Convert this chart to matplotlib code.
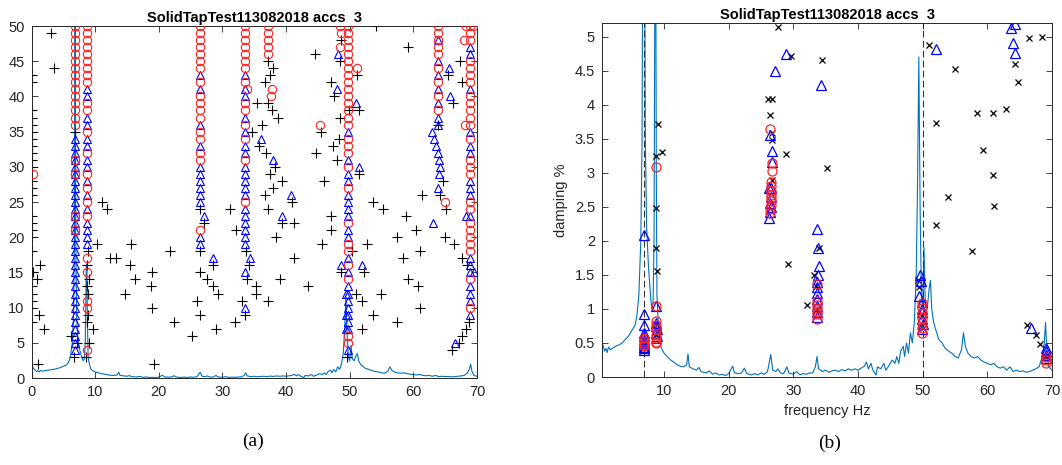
import matplotlib
matplotlib.use("Agg")
import matplotlib.pyplot as plt
from matplotlib.ticker import FuncFormatter

TITLE = "SolidTapTest113082018 accs  3"

# ---------------- spectrum (damping-axis units) ----------------
spec_f = [0.0, 0.2, 0.4, 0.6, 0.8, 1.0, 1.2, 1.4, 1.7, 2.0, 2.5, 3.0, 3.5, 4.0, 4.5, 5.0, 5.5, 5.8,
          6.1, 6.4, 6.6, 6.75, 6.85, 6.95, 7.1, 7.3, 7.6, 7.9, 8.1, 8.3, 8.45, 8.6, 8.7, 8.8, 8.9,
          9.1, 9.3, 9.6, 10.0, 10.5, 11.0, 11.5, 12.0, 12.5, 13.0, 13.5, 13.7, 13.9, 14.5, 15.0,
          15.4, 15.7, 16.5, 17.0, 17.5, 18.0, 18.5, 19.0, 19.5, 20.0, 20.6, 20.9, 21.5, 22.0, 22.4,
          22.8, 23.5, 24.0, 24.5, 25.0, 25.5, 26.0, 26.5, 26.8, 27.3, 27.6, 28.0, 28.5, 29.0, 29.3,
          30.0, 30.5, 31.0, 31.5, 32.0, 32.5, 33.0, 33.4, 33.65, 33.9, 34.5, 35.0, 35.5, 36.0, 36.5,
          37.0, 37.5, 38.0, 38.5, 39.0, 39.5, 40.0, 40.5, 41.0, 41.3, 41.6, 42.0, 42.3, 42.8, 43.0,
          43.5, 44.0, 44.3, 44.8, 45.3, 45.7, 46.0, 46.3, 46.6, 47.0, 47.2, 47.5, 47.8, 48.1, 48.4,
          48.7, 49.0, 49.2, 49.4, 49.6, 49.8, 50.0, 50.2, 50.4, 50.7, 51.0, 51.2, 51.4, 51.7, 52.0,
          52.5, 53.0, 53.5, 54.0, 54.5, 55.0, 55.5, 56.0, 56.3, 56.6, 57.0, 57.5, 58.0, 58.5, 59.0,
          59.5, 60.0, 60.5, 61.0, 61.5, 62.0, 62.5, 63.0, 63.5, 64.0, 64.5, 65.0, 65.5, 66.0, 66.5,
          67.0, 67.5, 68.0, 68.5, 68.8, 69.0, 69.2, 69.5, 70.0]
spec_a = [1.35, 0.62, 0.52, 0.45, 0.38, 0.42, 0.36, 0.44, 0.40, 0.42, 0.45, 0.47, 0.50, 0.55, 0.60, 0.68, 0.76, 0.90,
          1.2, 2.0, 3.5, 8.0, 25.0, 8.0, 3.5, 2.2, 1.6, 1.2, 1.0, 1.1, 2.0, 6.5, 6.6, 3.0, 1.2,
          0.8, 0.55, 0.42, 0.35, 0.30, 0.25, 0.22, 0.18, 0.16, 0.15, 0.18, 0.34, 0.15, 0.12, 0.10,
          0.14, 0.08, 0.06, 0.09, 0.04, 0.06, 0.03, 0.04, 0.02, 0.05, 0.16, 0.06, 0.05, 0.06, 0.13,
          0.05, 0.03, 0.05, 0.03, 0.06, 0.04, 0.08, 0.33, 0.10, 0.08, 0.12, 0.06, 0.05, 0.15, 0.06,
          0.04, 0.08, 0.03, 0.05, 0.04, 0.06, 0.06, 0.15, 0.30, 0.12, 0.08, 0.10, 0.07, 0.09, 0.10,
          0.08, 0.11, 0.09, 0.12, 0.10, 0.12, 0.10, 0.13, 0.16, 0.22, 0.12, 0.20, 0.10, 0.03, 0.15,
          0.12, 0.20, 0.10, 0.17, 0.25, 0.20, 0.30, 0.20, 0.38, 0.45, 0.30, 0.50, 0.35, 0.65, 0.50,
          0.80, 1.5, 2.8, 4.7, 2.5, 1.2, 1.0, 1.9, 1.1, 1.0, 1.3, 1.42, 1.0, 0.80, 0.70,
          0.55, 0.50, 0.42, 0.38, 0.35, 0.30, 0.28, 0.40, 0.65, 0.45, 0.35, 0.30, 0.28, 0.30, 0.25,
          0.22, 0.20, 0.18, 0.20, 0.15, 0.13, 0.15, 0.10, 0.15, 0.08, 0.10, 0.08, 0.09, 0.07, 0.08,
          0.10, 0.12, 0.15, 0.30, 0.50, 0.80, 0.40, 0.15, 0.10]
SPEC_LEFT_SCALE = 2.45

# ---------------- (a) stabilisation diagram ----------------
# unstable poles (+)
lp_x = [0.1]*25 + [3.1, 3.6, 1.3, 0.3, 0.9, 1.15, 2.0, 1.05,
        6.2, 7.2, 6.6, 6.8, 8.6, 9.1, 8.7, 9.6, 8.9, 8.8, 8.7, 8.7, 8.8, 9.0,
        11.0, 11.8, 10.3, 12.3, 13.2, 15.6, 15.4, 16.2, 14.7, 19.0, 18.85, 19.0, 19.2,
        21.7, 22.4, 25.2, 26.0, 26.4, 26.5, 26.4, 26.4, 27.1, 27.5, 28.5, 28.5, 29.3, 29.0,
        31.2, 32.2, 32.0, 33.1, 33.5, 33.7, 33.8, 34.2, 34.7, 35.3, 35.3, 35.8, 36.2, 35.5,
        36.75, 36.75, 36.9, 37.2, 37.2, 37.2, 37.2,
        38.0, 37.4, 37.75, 38.8, 38.3, 37.5, 39.3, 38.0, 41.0, 39.3, 41.3, 38.4, 41.3, 39.1,
        43.4, 44.55, 48.4, 48.7, 47.0, 47.5, 48.5, 45.5, 48.3, 47.4, 44.7, 48.0, 51.1, 51.5,
        49.9, 45.9, 51.4, 47.1, 47.1, 45.6, 50.3, 52.7, 48.7, 52.3, 51.0, 51.9, 51.9, 53.7,
        54.9, 53.6, 55.3, 54.2, 57.4, 58.3, 58.8, 60.4, 59.1, 60.8, 61.0, 61.0, 57.4, 61.4,
        59.2, 63.9, 64.7, 64.2, 65.2, 65.0, 66.4, 66.0, 67.1, 67.6, 68.2, 68.7, 67.3, 67.6,
        66.3, 65.5, 67.6, 68.4, 49.6]
lp_y = [43, 42, 38, 37, 36, 35, 34, 33, 32, 31, 30, 28, 27, 26, 23, 22, 21, 20, 18, 15, 13, 12, 11, 10, 8] + \
       [49, 44, 16, 15, 14, 9, 7, 2,
        6, 5, 3, 35, 3, 5, 8, 7, 9, 18, 16, 13, 12, 14,
        25, 24, 19, 17, 17, 19, 16, 14, 12, 15, 13, 10, 2,
        18, 8, 6, 11, 9, 15, 18, 24, 22, 14, 13, 16, 12, 7,
        24, 21, 8, 11, 9, 18, 14, 16, 35, 13, 12, 33, 36, 39,
        42, 26, 32, 24, 11, 45, 39,
        44, 43, 38, 37, 30, 29, 28, 27, 25, 22, 22, 20, 17, 14,
        13, 46, 45, 48, 42, 40, 37, 35, 34, 33, 32, 31, 43, 38,
        38, 28, 29, 23, 21, 19, 18, 19, 15, 15, 12, 11, 7, 9,
        12, 25, 24, 50, 20, 17, 23, 21, 14, 13, 18, 10, 8, 26,
        47, 36, 28, 26, 24, 20, 19, 4, 5, 6, 7, 8, 45, 42,
        39, 43, 17, 16, 3]

# stable poles (red circles)
lc_x = [6.8]*19 + [8.65]*22 + [26.4]*17 + [33.6]*14 + [33.9] + [37.2]*5 + [37.8, 37.6] + \
       [49.8]*27 + [48.4, 48.7, 48.4, 51.1, 45.3] + [63.8]*9 + [65.0] + \
       [68.9]*25 + [68.2, 69.3, 68.0, 68.1, 0.2]
lc_y = [50, 49, 48, 47, 46, 45, 44, 43, 42, 41, 40, 39, 38, 37, 36, 31, 29, 23, 21] + \
       [50, 49, 48, 47, 46, 45, 44, 43, 42, 39, 38, 35, 32, 29, 27, 25, 23, 17, 15, 11, 10, 4] + \
       [50, 49, 48, 47, 46, 45, 44, 42, 40, 39, 38, 37, 35, 34, 32, 31, 21] + \
       [50, 49, 48, 47, 46, 45, 44, 42, 39, 38, 36, 34, 31, 25] + [41] + \
       [50, 49, 48, 47, 46] + [41, 40] + \
       [50, 49, 48, 47, 46, 45, 44, 43, 42, 41, 40, 39, 38, 37, 36, 34, 33, 32, 30, 27, 22, 19, 18, 16, 14, 6, 5] + \
       [50, 49, 47, 44, 36] + [50, 49, 48, 47, 46, 44, 42, 40, 38] + [25] + \
       [50, 49, 48, 45, 44, 43, 42, 40, 39, 38, 37, 36, 34, 31, 30, 29, 25, 24, 22, 21, 20, 19, 18, 14, 10] + \
       [50, 50, 48, 36, 29]

# frequency-stable poles (blue triangles)
lt_x = [6.8]*31 + [8.65]*15 + [26.4]*12 + [27.1, 28.5] + [33.6]*20 + [34.4, 36.0] + \
       [49.8]*20 + [49.4, 49.4, 49.4, 48.2, 48.0, 51.0, 51.4, 48.6, 51.9, 38.0, 40.8, 39.3] + \
       [63.8]*7 + [62.9, 63.2, 63.5, 63.9, 64.1, 64.2, 64.0, 63.8, 63.1, 65.6, 65.8] + \
       [68.9]*17 + [68.3, 69.5, 66.5]
lt_y = list(range(34, 3, -1)) + \
       [41, 40, 37, 36, 34, 33, 31, 30, 28, 26, 24, 22, 21, 20, 19] + \
       [43, 41, 36, 33, 30, 29, 28, 27, 26, 25, 20, 19] + [23, 17] + \
       [43, 41, 40, 37, 35, 33, 32, 30, 29, 28, 27, 26, 24, 23, 22, 21, 20, 19, 15, 10] + [17, 34] + \
       [35, 31, 29, 28, 26, 25, 24, 23, 21, 20, 17, 15, 13, 12, 11, 10, 9, 8, 7, 4] + \
       [12, 9, 7, 46, 41, 39, 30, 16, 16, 31, 26, 23] + \
       [48, 45, 43, 41, 39, 37, 36] + [35, 34, 33, 32, 31, 30, 29, 27, 22, 44, 40] + \
       [47, 46, 41, 35, 33, 32, 28, 27, 26, 23, 17, 16, 15, 13, 12, 11, 9] + [23, 15, 5]

# ---------------- (b) damping vs frequency ----------------
rx_x = [9.0, 9.7, 8.8, 8.8, 8.8, 8.9, 8.7, 8.8, 8.7, 8.9, 6.9, 6.9,
        27.6, 29.6, 26.0, 26.7, 26.4, 26.7, 26.7, 28.8, 26.7, 29.1, 32.1,
        34.4, 35.2, 33.2, 33.9, 33.5, 33.5,
        51.0, 55.0, 52.0, 58.4, 60.9, 62.9, 59.3, 60.8, 53.9, 61.1, 52.0, 57.7, 64.35, 64.8, 66.5, 68.4,
        49.2, 49.4, 50.1, 49.9, 66.2, 67.5, 68.1, 69.1]
rx_y = [3.71, 3.31, 3.24, 2.48, 1.9, 1.55, 0.78, 0.70, 0.62, 0.66, 0.50, 0.55,
        5.14, 4.72, 4.09, 4.09, 3.85, 3.59, 3.48, 3.27, 2.90, 1.66, 1.06,
        4.65, 3.07, 1.50, 1.90, 1.33, 0.99,
        4.88, 4.52, 3.73, 3.88, 3.88, 3.94, 3.33, 2.96, 2.64, 2.51, 2.23, 1.85, 4.60, 4.33, 4.98, 5.00,
        1.42, 1.32, 0.72, 0.90, 0.77, 0.62, 0.48, 0.30]

rt_x = [6.9]*11 + [8.8, 8.8, 8.8, 8.9, 8.8, 8.9, 8.8] + \
       [27.1, 28.8, 26.4, 26.7, 26.7, 26.5, 26.3, 26.4, 26.4, 26.3, 26.5, 26.5] + \
       [34.3] + [33.6, 33.8, 33.9, 33.8] + [33.6]*7 + \
       [63.6, 64.3, 63.9, 64.35, 52.1] + \
       [49.6, 49.7, 49.4, 49.9, 49.9, 49.9, 49.9, 50.0, 49.9] + \
       [66.7, 69.1, 69.1, 69.1, 69.0]
rt_y = [2.08, 0.93, 0.77, 0.65, 0.60, 0.55, 0.50, 0.47, 0.44, 0.42, 0.40] + \
       [1.05, 0.80, 0.75, 0.70, 0.65, 0.60, 0.57] + \
       [4.49, 4.75, 3.55, 3.32, 3.16, 2.78, 2.78, 2.56, 2.43, 2.34, 2.65, 2.50] + \
       [4.29] + [2.17, 1.90, 1.63, 1.50] + [1.40, 1.32, 1.23, 1.15, 1.05, 0.95, 0.88] + \
       [5.13, 5.19, 4.90, 4.76, 4.82] + \
       [1.50, 1.41, 1.19, 1.10, 1.00, 0.95, 0.85, 0.78, 0.70] + \
       [0.72, 0.43, 0.38, 0.33, 0.28]

rc_x = [8.8, 8.8, 26.4, 26.7, 26.7, 26.6, 26.5, 26.5, 26.5, 26.5, 26.5, 26.5, 26.4, 26.4] + \
       [8.8]*6 + [8.7] + [6.9]*5 + [33.6]*7 + [49.9]*7 + [69.0]*3
rc_y = [3.08, 1.05, 3.64, 3.14, 3.02, 2.87, 2.80, 2.73, 2.68, 2.63, 2.58, 2.53, 2.47, 2.41] + \
       [0.82, 0.77, 0.70, 0.62, 0.57, 0.52, 0.50] + [0.57, 0.53, 0.50, 0.47, 0.45] + \
       [1.36, 1.11, 1.06, 1.01, 0.96, 0.92, 0.85] + \
       [1.09, 1.01, 0.94, 0.87, 0.79, 0.72, 0.65] + [0.30, 0.25, 0.20]

mode_lines = [6.9, 50.0]

# ---------------- drawing ----------------
plt.rcParams['font.family'] = ['Liberation Sans', 'DejaVu Sans']
fig = plt.figure(figsize=(10.62, 4.65), dpi=100)

SPEC_C = '#0072BD'
AX_C = '#262626'

def style(ax):
    ax.tick_params(direction='in', top=True, right=True, length=4.5, width=0.6,
                   colors=AX_C, labelsize=10.5, pad=5)
    for s in ax.spines.values():
        s.set_color(AX_C)
        s.set_linewidth(0.7)
    ax.set_title(TITLE, fontsize=10.5, fontweight='bold', pad=3)

fmt = FuncFormatter(lambda v, p: ('%g' % v))

# (a)
axL = fig.add_axes([31.5/1062, 1-378/465, (477-31.5)/1062, (378-26)/465])
axL.plot(spec_f, [a*SPEC_LEFT_SCALE for a in spec_a], color=SPEC_C, lw=0.8, zorder=1)
axL.plot(lp_x, lp_y, ls='none', marker='+', ms=7, mew=0.8, color='black', zorder=2)
axL.plot(lt_x, lt_y, ls='none', marker='^', ms=6, mew=0.8, mfc='none', mec='blue', zorder=3)
axL.plot(lc_x, lc_y, ls='none', marker='o', ms=6, mew=0.8, mfc='none', mec='#ff2020', zorder=4)
axL.set_xlim(0, 70)
axL.set_ylim(0, 50)
axL.set_xticks(range(0, 71, 10))
axL.set_yticks(range(0, 51, 5))
style(axL)

# (b)
axR = fig.add_axes([602/1062, 1-377/465, (1052-602)/1062, (377-23)/465])
axR.plot(spec_f, spec_a, color=SPEC_C, lw=0.8, zorder=1)
for m in mode_lines:
    axR.axvline(m, color='#333333', ls=(0, (6, 3)), lw=0.8, zorder=1)
axR.plot(rx_x, rx_y, ls='none', marker='x', ms=5, mew=0.9, color='black', zorder=2)
axR.plot(rt_x, rt_y, ls='none', marker='^', ms=6.5, mew=0.9, mfc='none', mec='blue', zorder=3)
axR.plot(rc_x, rc_y, ls='none', marker='o', ms=6.5, mew=0.9, mfc='none', mec='#ff2020', zorder=4)
axR.set_xlim(0.4, 70)
axR.set_ylim(0, 5.2)
axR.set_xticks(range(10, 71, 10))
axR.set_yticks([i*0.5 for i in range(11)])
axR.yaxis.set_major_formatter(fmt)
axR.set_xlabel('frequency Hz', fontsize=10.5, color=AX_C, labelpad=4)
axR.set_ylabel('damping %', fontsize=10.5, color=AX_C, labelpad=5)
style(axR)

fig.text(253/1062, 1-441/465, '(a)', family='Liberation Serif', fontsize=14, ha='center', va='center')
fig.text(830/1062, 1-443/465, '(b)', family='Liberation Serif', fontsize=14, ha='center', va='center')

fig.savefig('out.png', dpi=100)
